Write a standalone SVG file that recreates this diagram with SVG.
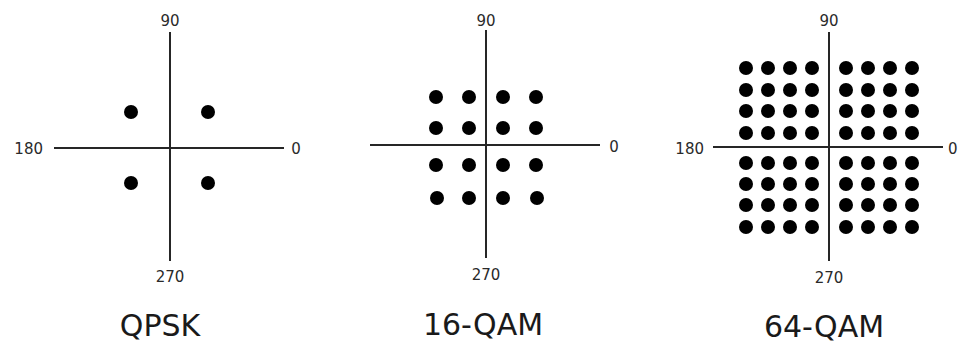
<svg xmlns="http://www.w3.org/2000/svg" width="959" height="347" viewBox="0 0 959 347">
<style>
.ax{stroke:#262626;stroke-width:2;fill:none}
.lb{font-family:"DejaVu Sans",Verdana,sans-serif;font-size:15px;fill:#2a2a2a;text-anchor:middle}
.lb.e{text-anchor:end}
.lb.s{text-anchor:start}
.ti{font-family:"DejaVu Sans",Verdana,sans-serif;font-size:30px;fill:#1a1a1a;text-anchor:middle}
.d{fill:#000}
</style>
<rect width="959" height="347" fill="#fff"/>
<g id="connectors">
<line class="ax" x1="170" y1="32" x2="170" y2="261"/>
<line class="ax" x1="54" y1="148" x2="284" y2="148"/>
<line class="ax" x1="486" y1="30" x2="486" y2="258"/>
<line class="ax" x1="370" y1="145" x2="600" y2="145"/>
<line class="ax" x1="829" y1="32" x2="829" y2="261"/>
<line class="ax" x1="713" y1="147" x2="943" y2="147"/>
</g>
<g id="qpsk">
<text class="lb" x="170" y="26">90</text>
<text class="lb e" x="43" y="154">180</text>
<text class="lb" x="296" y="154">0</text>
<text class="lb" x="170" y="282">270</text>
<g class="d">
<circle cx="131" cy="112" r="7"/><circle cx="208" cy="112" r="7"/>
<circle cx="131" cy="183" r="7"/><circle cx="208" cy="183" r="7"/>
</g>
<text class="ti" x="160" y="336">QPSK</text>
</g>
<g id="qam16">
<text class="lb" x="486" y="26">90</text>
<text class="lb" x="614" y="152">0</text>
<text class="lb" x="486" y="280">270</text>
<g class="d">
<circle cx="436" cy="97" r="7"/><circle cx="469" cy="97" r="7"/><circle cx="503" cy="97" r="7"/><circle cx="536" cy="97" r="7"/>
<circle cx="436" cy="128" r="7"/><circle cx="469" cy="128" r="7"/><circle cx="503" cy="128" r="7"/><circle cx="536" cy="128" r="7"/>
<circle cx="436" cy="165" r="7"/><circle cx="469" cy="165" r="7"/><circle cx="503" cy="165" r="7"/><circle cx="536" cy="165" r="7"/>
<circle cx="437" cy="198" r="7"/><circle cx="469" cy="198" r="7"/><circle cx="503" cy="198" r="7"/><circle cx="537" cy="198" r="7"/>
</g>
<text class="ti" x="483" y="335">16-QAM</text>
</g>
<g id="qam64">
<text class="lb" x="829" y="26">90</text>
<text class="lb e" x="704" y="154">180</text>
<text class="lb s" x="948" y="154">0</text>
<text class="lb" x="829" y="283">270</text>
<g class="d">
<circle cx="746" cy="68" r="7"/><circle cx="768" cy="68" r="7"/><circle cx="790" cy="68" r="7"/><circle cx="812" cy="68" r="7"/><circle cx="846" cy="68" r="7"/><circle cx="868" cy="68" r="7"/><circle cx="890" cy="68" r="7"/><circle cx="912" cy="68" r="7"/>
<circle cx="746" cy="90" r="7"/><circle cx="768" cy="90" r="7"/><circle cx="790" cy="90" r="7"/><circle cx="812" cy="90" r="7"/><circle cx="846" cy="90" r="7"/><circle cx="868" cy="90" r="7"/><circle cx="890" cy="90" r="7"/><circle cx="912" cy="90" r="7"/>
<circle cx="746" cy="111" r="7"/><circle cx="768" cy="111" r="7"/><circle cx="790" cy="111" r="7"/><circle cx="812" cy="111" r="7"/><circle cx="846" cy="111" r="7"/><circle cx="868" cy="111" r="7"/><circle cx="890" cy="111" r="7"/><circle cx="912" cy="111" r="7"/>
<circle cx="746" cy="133" r="7"/><circle cx="768" cy="133" r="7"/><circle cx="790" cy="133" r="7"/><circle cx="812" cy="133" r="7"/><circle cx="846" cy="133" r="7"/><circle cx="868" cy="133" r="7"/><circle cx="890" cy="133" r="7"/><circle cx="912" cy="133" r="7"/>
<circle cx="746" cy="163" r="7"/><circle cx="768" cy="163" r="7"/><circle cx="790" cy="163" r="7"/><circle cx="812" cy="163" r="7"/><circle cx="846" cy="163" r="7"/><circle cx="868" cy="163" r="7"/><circle cx="890" cy="163" r="7"/><circle cx="912" cy="163" r="7"/>
<circle cx="746" cy="184" r="7"/><circle cx="768" cy="184" r="7"/><circle cx="790" cy="184" r="7"/><circle cx="812" cy="184" r="7"/><circle cx="846" cy="184" r="7"/><circle cx="868" cy="184" r="7"/><circle cx="890" cy="184" r="7"/><circle cx="912" cy="184" r="7"/>
<circle cx="746" cy="205" r="7"/><circle cx="768" cy="205" r="7"/><circle cx="790" cy="205" r="7"/><circle cx="812" cy="205" r="7"/><circle cx="846" cy="205" r="7"/><circle cx="868" cy="205" r="7"/><circle cx="890" cy="205" r="7"/><circle cx="912" cy="205" r="7"/>
<circle cx="746" cy="227" r="7"/><circle cx="768" cy="227" r="7"/><circle cx="790" cy="227" r="7"/><circle cx="812" cy="227" r="7"/><circle cx="846" cy="227" r="7"/><circle cx="868" cy="227" r="7"/><circle cx="890" cy="227" r="7"/><circle cx="912" cy="227" r="7"/>
</g>
<text class="ti" x="824" y="337">64-QAM</text>
</g>
</svg>
